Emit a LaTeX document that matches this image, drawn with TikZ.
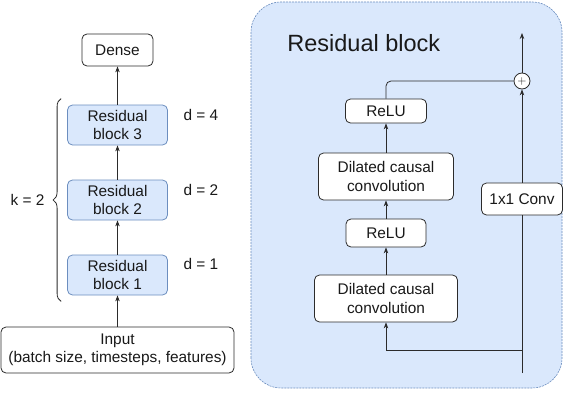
\documentclass[tikz,border=0pt]{standalone}
\usepackage{fontspec}
\setmainfont{Liberation Sans}
\usetikzlibrary{positioning,arrows.meta,decorations.pathreplacing}

\definecolor{bluefill}{HTML}{DAE8FC}
\definecolor{blueline}{HTML}{6C8EBF}
\definecolor{linegray}{HTML}{2B2B2B}

\tikzset{
  plainbox/.style={draw=linegray, fill=white, rounded corners=5pt, align=center, inner sep=2pt},
  resblock/.style={draw=blueline, fill=bluefill, rounded corners=5pt, align=center,
    minimum width=100pt, minimum height=40pt, inner sep=2pt}
}

\begin{document}
\begin{tikzpicture}[->, x=1pt, y=1pt, line width=0.8pt, draw=linegray,
    >={Stealth[length=6pt,width=4.5pt]}, node distance=75pt,
    font=\fontsize{15.4pt}{18.5pt}\selectfont, text=black!90]
            \useasboundingbox (0,0) rectangle (563,392);

            % network overview
            \node[plainbox, minimum width=233pt, minimum height=46pt] (1) at (117.5,42) {Input\\(batch size, timesteps, features)};
            \node[resblock] (2) [above of=1] {Residual\\block 1};
            \node[resblock] (3) [above of=2] {Residual\\block 2};
            \node[resblock] (4) [above of=3] {Residual\\block 3};
            \node[plainbox, minimum width=71pt, minimum height=32pt] (5) [above of=4] {Dense};

            \node (d1) [right=12pt of 2, yshift=11pt] {d = 1};
            \node (d2) [right=12pt of 3, yshift=10pt] {d = 2};
            \node (d3) [right=12pt of 4, yshift=10pt] {d = 4};

            \draw[-, decorate, decoration={brace, amplitude=8pt}]
              ([xshift=-6pt, yshift=-6pt]2.south west) -- ([xshift=-6pt, yshift=6pt]4.north west)
              node[midway, left=13pt] (k) {k = 2};

            % residual block
            \draw[-, fill=bluefill, draw=blueline, line width=0.6pt, dash pattern=on 2pt off 1pt,
              rounded corners=30pt] (251,4) rectangle (562,390);
            \node[anchor=west, inner sep=0pt, font=\fontsize{23.5pt}{28pt}\selectfont] (t) at (287,349) {Residual block};

            \node[plainbox, minimum width=143pt, minimum height=47pt] (7) at (386,93.5) {Dilated causal\\convolution};
            \node[plainbox, minimum width=80pt, minimum height=28pt] (8) [node distance=65.5pt, above of=7] {ReLU};
            \node[plainbox, minimum width=135pt, minimum height=47pt] (9) [node distance=56.5pt, above of=8] {Dilated causal\\convolution};
            \node[plainbox, minimum width=81pt, minimum height=24pt] (10) [node distance=65.5pt, above of=9] {ReLU};
            \node[plainbox, minimum width=81pt, minimum height=32pt] (11) at (522,193) {1x1 Conv};
            \node[draw=linegray, circle, fill=white, minimum size=16pt, inner sep=0pt,
              font=\fontsize{12pt}{12pt}\selectfont] (12) at (522,311) {$+$};
            \coordinate (13) at (522,19);
            \coordinate (14) at (522,42);
            \coordinate (15) at (522,359);

            \path
            (1) edge node {} (2)
            (2) edge node {} (3)
            (3) edge node {} (4)
            (4) edge node {} (5)
            (7) edge node {} (8)
            (8) edge node {} (9)
            (9) edge node {} (10)
            (11) edge node {} (12)
            (12) edge node {} (15);

            \draw[-] (13) -- (11);
            \draw (14) -| (7);
            \draw[-, rounded corners=5pt] (10) |- (12);

        \end{tikzpicture}
\end{document}
